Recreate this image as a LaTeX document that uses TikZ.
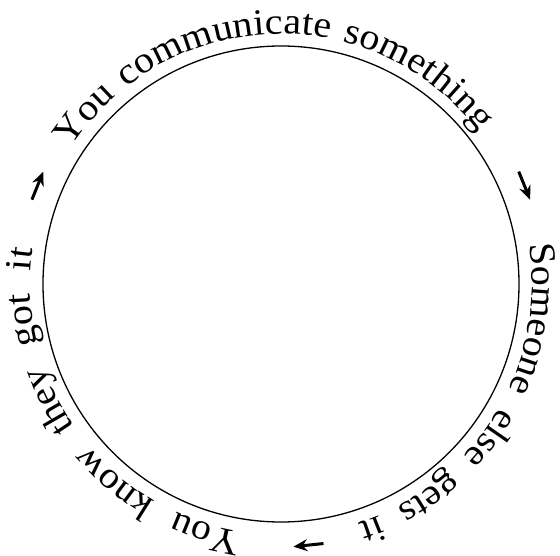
\documentclass[tikz,border=0pt]{standalone}
\usepackage{fontspec}
\setmainfont{Liberation Serif}[FakeStretch=1.08]
\usetikzlibrary{decorations.text,arrows.meta,calc}

\begin{document}
\fontsize{37}{44}\selectfont
\begin{tikzpicture}[
    x=1pt, y=1pt,
    ring/.style={
        line width=1.3pt
    },
    roundtext/.style={
        decorate,
        decoration={
            text along path,
            text align=fit to path stretching spaces,
            text={#1}
        }
    },
    turn/.style={
        line width=3pt,
        -{Stealth[length=14pt,width=12pt]}
    }
]
\useasboundingbox (0,0) rectangle (560,555);

% Centre and ring
\coordinate (c) at (281,271);
\draw[ring] (c) circle[radius=238pt];

% Text round the outside, read clockwise
\path[roundtext={You communicate something}]
    ([shift={(147:250pt)}]c) arc[start angle=147, end angle=37.5, radius=250pt];
\path[roundtext={Someone else gets it}]
    ([shift={(9:251pt)}]c) arc[start angle=9, end angle=-72, radius=251pt];
\path[roundtext={You know they got it}]
    ([shift={(-99:251pt)}]c) arc[start angle=-99, end angle=-188, radius=251pt];

% Small arrows between the stages
\foreach \a/\n in {22/right, -84/bottom, 158/left} {
    \coordinate (\n tail) at ($(c)+(\a+3.3:263pt)$);
    \coordinate (\n head) at ($(c)+(\a-3.3:263pt)$);
    \draw[turn] (\n tail) -- (\n head);
}

\end{tikzpicture}
\end{document}
